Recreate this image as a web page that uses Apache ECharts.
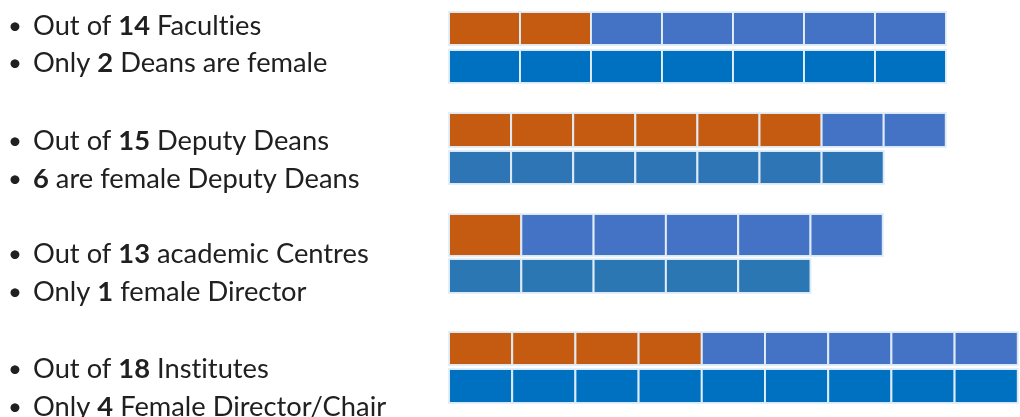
<!DOCTYPE html>
<html>
<head>
<meta charset="utf-8">
<script src="https://cdn.jsdelivr.net/npm/echarts@6/dist/echarts.min.js"></script>
<style>
  html, body { margin: 0; padding: 0; background: #ffffff; }
  #chart { width: 1020px; height: 417px; }
</style>
</head>
<body>
<div id="chart"></div>
<script>
// Leadership positions held by women, per unit type
const totals = [14, 15, 13, 18];
const females = [2, 6, 1, 4];
const lineOne = ['Out of {n} Faculties', 'Out of {n} Deputy Deans', 'Out of {n} academic Centres', 'Out of {n} Institutes'];
const lineTwo = ['Only {n} Deans are female', '{n} are female Deputy Deans', 'Only {n} female Director', 'Only {n} Female Director/Chair'];
// Number of blocks drawn in each row of a group
const topRowCells = [7, 8, 6, 9];
const bottomRowCells = [7, 7, 5, 9];

// Layout of the block rows (pixels)
const blockLeft = 449;
const cellWidths = [71, 62.1, 72.3, 63.2];
const rowTops = [[12, 50], [113, 151], [214, 259], [332, 369]];
const rowHeights = [[33, 33], [34, 33], [42, 34], [33, 34]];
const textCenters = [[26.5, 63.5], [141, 179], [254.5, 292], [369, 407]];

const ORANGE = '#C55A11';
const TOP_BLUE = '#4472C4';
const bottomBlues = ['#0070C0', '#2E75B6', '#2B77B4', '#0070C0'];

const grids = [], xAxes = [], yAxes = [], series = [];

function addRow(g, r, cells, colorOf) {
  const idx = grids.length;
  grids.push({
    left: blockLeft, top: rowTops[g][r],
    width: cells * cellWidths[g], height: rowHeights[g][r],
    containLabel: false
  });
  xAxes.push({ type: 'value', gridIndex: idx, min: 0, max: cells, show: false });
  yAxes.push({ type: 'value', gridIndex: idx, min: 0, max: 1, show: false });
  const data = [];
  for (let c = 0; c < cells; c++) data.push([c, colorOf(c)]);
  series.push({
    type: 'custom', xAxisIndex: idx, yAxisIndex: idx, silent: true,
    data: data,
    renderItem: function (params, api) {
      const c = api.value(0);
      const p0 = api.coord([c, 1]);
      const p1 = api.coord([c + 1, 0]);
      return {
        type: 'rect',
        shape: { x: p0[0], y: p0[1], width: p1[0] - p0[0], height: p1[1] - p0[1] },
        style: { fill: data[params.dataIndex][1], stroke: 'rgba(225,238,250,0.95)', lineWidth: 2 }
      };
    }
  });
}

for (let g = 0; g < totals.length; g++) {
  addRow(g, 0, topRowCells[g], c => (c < females[g] ? ORANGE : TOP_BLUE));
  addRow(g, 1, bottomRowCells[g], () => bottomBlues[g]);
}

// Bullet text on the left, numbers in bold
const FONT = 'Lato, "Open Sans", sans-serif';
const SIZE = 27.3;
const INK = '#202020';
const rich = {
  t: { fontFamily: FONT, fontSize: SIZE, color: INK },
  b: { fontFamily: FONT, fontSize: SIZE, fontWeight: 'bold', color: INK }
};
// keep "t" and "i" as separate glyphs (no ligature)
function noLig(s) { return s.replace(/ti/g, 't\u200Ci'); }
function richLine(tpl, n) {
  return tpl.split('{n}').map(s => s ? '{t|' + noLig(s) + '}' : '').join('{b|' + n + '}');
}
const graphics = [];
for (let g = 0; g < totals.length; g++) {
  const lines = [richLine(lineOne[g], totals[g]), richLine(lineTwo[g], females[g])];
  lines.forEach((txt, k) => {
    graphics.push({
      type: 'text', x: 8, y: textCenters[g][k],
      style: { text: '•', fontFamily: FONT, fontSize: 24, fill: INK, verticalAlign: 'middle' }
    });
    graphics.push({
      type: 'text', x: 33, y: textCenters[g][k],
      style: { text: txt, rich: rich, verticalAlign: 'middle', align: 'left', fill: INK, fontFamily: FONT, fontSize: SIZE }
    });
  });
}

const chart = echarts.init(document.getElementById('chart'), null, { renderer: 'canvas' });
chart.setOption({
  backgroundColor: '#ffffff',
  animation: false,
  grid: grids,
  xAxis: xAxes,
  yAxis: yAxes,
  series: series,
  graphic: graphics
});
</script>
</body>
</html>
